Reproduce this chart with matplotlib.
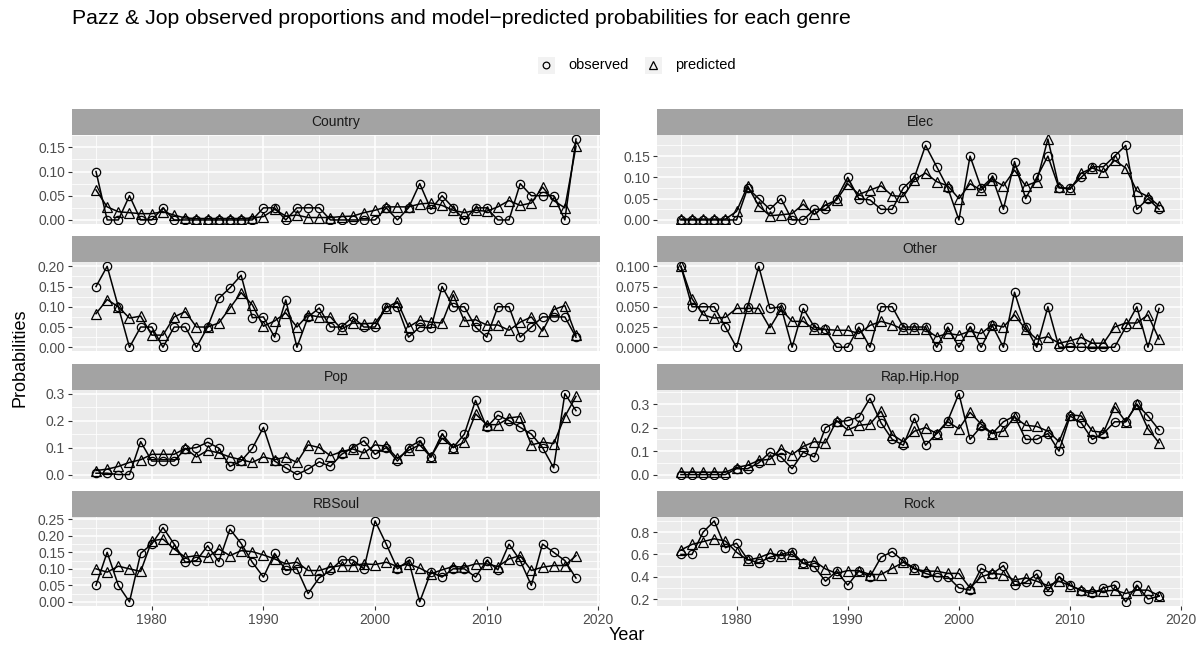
import matplotlib
matplotlib.use("Agg")
import matplotlib.pyplot as plt
from matplotlib.lines import Line2D
from matplotlib.patches import Rectangle
from matplotlib.ticker import FormatStrFormatter

# -----------------------------
# Data: share of Pazz & Jop albums per genre, 1975-2018
# -----------------------------

years = list(range(1975, 2019))

genres = ["Country", "Elec", "Folk", "Other", "Pop", "Rap.Hip.Hop", "RBSoul", "Rock"]

country_obs = [0.10, 0, 0, 0.05, 0, 0, 0.025, 0, 0, 0, 0, 0, 0, 0, 0,
               0.025, 0.025, 0, 0.025, 0.025, 0.025, 0, 0, 0, 0,
               0, 0.025, 0, 0.025, 0.075, 0.022, 0.05, 0.025, 0, 0.025,
               0.025, 0, 0, 0.075, 0.05, 0.05, 0.05, 0, 0.167]
country_pred = [0.062, 0.027, 0.017, 0.015, 0.013, 0.013, 0.017, 0.01, 0.004, 0.003, 0.003, 0.003, 0.003, 0.003, 0.004,
                0.007, 0.022, 0.008, 0.01, 0.005, 0.005, 0.005, 0.007, 0.008, 0.015,
                0.02, 0.027, 0.027, 0.027, 0.033, 0.035, 0.03, 0.02, 0.015, 0.02,
                0.018, 0.027, 0.04, 0.03, 0.035, 0.068, 0.04, 0.025, 0.152]

elec_obs = [0, 0, 0, 0, 0, 0, 0.075, 0.05, 0.025, 0.05, 0, 0, 0.025, 0.025, 0.05,
            0.10, 0.05, 0.047, 0.025, 0.025, 0.075, 0.10, 0.175, 0.125, 0.075,
            0, 0.15, 0.075, 0.10, 0.025, 0.137, 0.05, 0.10, 0.15, 0.075,
            0.075, 0.10, 0.125, 0.125, 0.15, 0.175, 0.025, 0.05, 0.025]
elec_pred = [0.002, 0.002, 0.002, 0.002, 0.002, 0.02, 0.08, 0.033, 0.01, 0.012, 0.015, 0.037, 0.013, 0.035, 0.047,
             0.085, 0.06, 0.07, 0.08, 0.057, 0.055, 0.095, 0.11, 0.09, 0.08,
             0.05, 0.085, 0.07, 0.095, 0.08, 0.117, 0.08, 0.09, 0.19, 0.077,
             0.072, 0.11, 0.122, 0.112, 0.14, 0.122, 0.068, 0.055, 0.033]

folk_obs = [0.15, 0.20, 0.10, 0, 0.05, 0.05, 0, 0.05, 0.05, 0, 0.05, 0.121, 0.147, 0.178, 0.073,
            0.075, 0.025, 0.117, 0, 0.075, 0.097, 0.05, 0.05, 0.075, 0.05,
            0.05, 0.10, 0.10, 0.025, 0.05, 0.047, 0.15, 0.10, 0.10, 0.05,
            0.025, 0.10, 0.10, 0.025, 0.05, 0.075, 0.075, 0.075, 0.025]
folk_pred = [0.083, 0.118, 0.10, 0.072, 0.077, 0.03, 0.03, 0.075, 0.088, 0.05, 0.05, 0.06, 0.097, 0.135, 0.105,
             0.052, 0.065, 0.085, 0.05, 0.08, 0.075, 0.075, 0.045, 0.06, 0.058,
             0.06, 0.097, 0.113, 0.05, 0.067, 0.062, 0.06, 0.13, 0.065, 0.068,
             0.055, 0.055, 0.042, 0.062, 0.075, 0.04, 0.093, 0.103, 0.03]

other_obs = [0.10, 0.05, 0.05, 0.05, 0.025, 0, 0.05, 0.10, 0.048, 0.05, 0, 0.048, 0.025, 0.022, 0,
             0, 0.025, 0, 0.05, 0.05, 0.025, 0.025, 0.025, 0, 0.025,
             0, 0.025, 0, 0.027, 0, 0.068, 0.025, 0, 0.05, 0,
             0, 0, 0, 0, 0, 0.025, 0.05, 0, 0.048]
other_pred = [0.10, 0.06, 0.04, 0.036, 0.037, 0.048, 0.048, 0.048, 0.024, 0.047, 0.032, 0.032, 0.022, 0.022, 0.021,
              0.021, 0.017, 0.027, 0.032, 0.028, 0.022, 0.022, 0.022, 0.013, 0.017,
              0.015, 0.02, 0.017, 0.028, 0.025, 0.04, 0.022, 0.01, 0.013, 0.005,
              0.008, 0.012, 0.005, 0.005, 0.025, 0.03, 0.03, 0.04, 0.01]

pop_obs = [0.005, 0.005, 0, 0, 0.122, 0.05, 0.05, 0.05, 0.095, 0.10, 0.12, 0.098, 0.03, 0.05, 0.097,
           0.175, 0.05, 0.025, 0, 0.02, 0.047, 0.03, 0.075, 0.10, 0.125,
           0.075, 0.10, 0.05, 0.10, 0.125, 0.065, 0.15, 0.10, 0.15, 0.275,
           0.175, 0.22, 0.20, 0.175, 0.15, 0.10, 0.025, 0.30, 0.237]
pop_pred = [0.015, 0.02, 0.03, 0.045, 0.055, 0.075, 0.075, 0.075, 0.097, 0.065, 0.09, 0.08, 0.065, 0.055, 0.045,
            0.065, 0.055, 0.065, 0.045, 0.11, 0.10, 0.07, 0.085, 0.095, 0.08,
            0.11, 0.105, 0.06, 0.09, 0.11, 0.065, 0.135, 0.10, 0.12, 0.225,
            0.185, 0.185, 0.21, 0.215, 0.11, 0.12, 0.115, 0.215, 0.29]

rap_obs = [0, 0, 0, 0, 0, 0.025, 0.025, 0.05, 0.095, 0.075, 0.025, 0.095, 0.075, 0.20, 0.225,
           0.23, 0.245, 0.325, 0.22, 0.15, 0.125, 0.24, 0.125, 0.175, 0.23,
           0.345, 0.15, 0.205, 0.175, 0.225, 0.25, 0.15, 0.15, 0.175, 0.10,
           0.25, 0.22, 0.15, 0.175, 0.225, 0.225, 0.30, 0.25, 0.19]
rap_pred = [0.01, 0.01, 0.01, 0.01, 0.01, 0.03, 0.04, 0.06, 0.065, 0.11, 0.085, 0.12, 0.14, 0.135, 0.23,
            0.19, 0.21, 0.215, 0.27, 0.17, 0.14, 0.185, 0.20, 0.175, 0.225,
            0.195, 0.265, 0.215, 0.175, 0.185, 0.245, 0.21, 0.205, 0.185, 0.14,
            0.255, 0.25, 0.185, 0.18, 0.29, 0.225, 0.30, 0.195, 0.135]

rbsoul_obs = [0.05, 0.15, 0.05, 0, 0.147, 0.175, 0.225, 0.175, 0.12, 0.125, 0.17, 0.122, 0.22, 0.177, 0.12,
              0.075, 0.147, 0.095, 0.10, 0.025, 0.073, 0.095, 0.127, 0.127, 0.10,
              0.245, 0.175, 0.10, 0.125, 0, 0.09, 0.075, 0.10, 0.10, 0.075,
              0.125, 0.097, 0.175, 0.125, 0.05, 0.175, 0.15, 0.125, 0.072]
rbsoul_pred = [0.10, 0.09, 0.108, 0.10, 0.092, 0.185, 0.19, 0.16, 0.135, 0.14, 0.135, 0.16, 0.14, 0.155, 0.152,
               0.142, 0.13, 0.115, 0.12, 0.095, 0.095, 0.105, 0.11, 0.11, 0.115,
               0.113, 0.12, 0.107, 0.115, 0.102, 0.085, 0.097, 0.107, 0.105, 0.115,
               0.115, 0.107, 0.13, 0.14, 0.095, 0.105, 0.11, 0.11, 0.14]

rock_obs = [0.60, 0.60, 0.80, 0.90, 0.66, 0.70, 0.555, 0.525, 0.575, 0.60, 0.625, 0.52, 0.49, 0.36, 0.45,
            0.325, 0.45, 0.40, 0.575, 0.625, 0.54, 0.475, 0.43, 0.40, 0.40,
            0.30, 0.28, 0.475, 0.425, 0.50, 0.325, 0.35, 0.425, 0.275, 0.40,
            0.325, 0.275, 0.25, 0.30, 0.325, 0.175, 0.325, 0.20, 0.225]
rock_pred = [0.64, 0.69, 0.715, 0.74, 0.72, 0.62, 0.55, 0.57, 0.61, 0.59, 0.60, 0.52, 0.54, 0.47, 0.43,
             0.455, 0.455, 0.42, 0.42, 0.475, 0.53, 0.47, 0.45, 0.45, 0.43,
             0.43, 0.30, 0.40, 0.43, 0.42, 0.37, 0.39, 0.36, 0.32, 0.36,
             0.32, 0.28, 0.27, 0.27, 0.28, 0.25, 0.28, 0.28, 0.23]

# y breaks and label decimals for each facet (free y scales)
y_breaks = {
    "Country": ([0, 0.05, 0.10, 0.15], 2),
    "Elec": ([0, 0.05, 0.10, 0.15], 2),
    "Folk": ([0, 0.05, 0.10, 0.15, 0.20], 2),
    "Other": ([0, 0.025, 0.05, 0.075, 0.10], 3),
    "Pop": ([0, 0.1, 0.2, 0.3], 1),
    "Rap.Hip.Hop": ([0, 0.1, 0.2, 0.3], 1),
    "RBSoul": ([0, 0.05, 0.10, 0.15, 0.20, 0.25], 2),
    "Rock": ([0.2, 0.4, 0.6, 0.8], 1),
}

series = {
    "Country": (country_obs, country_pred),
    "Elec": (elec_obs, elec_pred),
    "Folk": (folk_obs, folk_pred),
    "Other": (other_obs, other_pred),
    "Pop": (pop_obs, pop_pred),
    "Rap.Hip.Hop": (rap_obs, rap_pred),
    "RBSoul": (rbsoul_obs, rbsoul_pred),
    "Rock": (rock_obs, rock_pred),
}

W, H = 1202, 646
PANEL_BG = "#EBEBEB"
STRIP_BG = "#A3A3A3"
TICK_COL = "#4D4D4D"


def box(x0, y0, x1, y1):
    # pixel box (top-left origin) -> figure fraction rect
    return [x0 / W, 1 - y1 / H, (x1 - x0) / W, (y1 - y0) / H]


def main():
    plt.rcParams["font.family"] = ["Liberation Sans", "DejaVu Sans"]

    fig = plt.figure(figsize=(W / 100, H / 100), dpi=100)

    cols = [(72, 600), (657, 1183)]
    strip_h = 26
    panel_h = 89
    pitch = 127.3
    strip_tops = [109 + r * pitch for r in range(4)]

    x_lo = years[0] - 0.05 * (years[-1] - years[0])
    x_hi = years[-1] + 0.05 * (years[-1] - years[0])

    for i, genre in enumerate(genres):
        row, col = divmod(i, 2)
        x0, x1 = cols[col]
        top = strip_tops[row]

        # -----------------------------
        # Strip
        # -----------------------------
        sax = fig.add_axes(box(x0, top, x1, top + strip_h))
        sax.set_facecolor(STRIP_BG)
        sax.set_xticks([])
        sax.set_yticks([])
        for s in sax.spines.values():
            s.set_visible(False)
        sax.text(0.5, 0.5, genre, ha="center", va="center",
                 fontsize=10, color="#1A1A1A", transform=sax.transAxes)

        # -----------------------------
        # Panel
        # -----------------------------
        ax = fig.add_axes(box(x0, top + strip_h, x1, top + strip_h + panel_h))
        ax.set_facecolor(PANEL_BG)
        for s in ax.spines.values():
            s.set_visible(False)

        obs, pred = series[genre]
        ax.plot(years, obs, color="black", lw=1.1, marker="o", ms=6,
                mfc="none", mec="black", mew=0.9, zorder=3)
        ax.plot(years, pred, color="black", lw=1.1, marker="^", ms=6.5,
                mfc="none", mec="black", mew=0.9, zorder=3)

        ax.set_xlim(x_lo, x_hi)
        ax.set_xticks([1980, 1990, 2000, 2010, 2020])
        ax.set_xticks([1975, 1985, 1995, 2005, 2015], minor=True)

        lo = min(min(obs), min(pred))
        hi = max(max(obs), max(pred))
        pad = 0.05 * (hi - lo)
        ax.set_ylim(lo - pad, hi + pad)

        ticks, dec = y_breaks[genre]
        step = ticks[1] - ticks[0]
        ax.set_yticks(ticks)
        minors = [t + step / 2 for t in [ticks[0] - step] + ticks]
        ax.set_yticks([m for m in minors if lo - pad <= m <= hi + pad], minor=True)
        ax.yaxis.set_major_formatter(FormatStrFormatter("%." + str(dec) + "f"))

        ax.grid(which="major", color="white", lw=1.1)
        ax.grid(which="minor", color="white", lw=0.55)
        ax.set_axisbelow(True)

        ax.tick_params(which="major", length=3, width=0.8, color="#333333",
                       labelsize=10, labelcolor=TICK_COL, pad=2)
        ax.tick_params(which="minor", length=0)
        if row < 3:
            ax.tick_params(axis="x", bottom=False, labelbottom=False)

    # -----------------------------
    # Titles
    # -----------------------------
    fig.text(72 / W, 1 - 19 / H,
             "Pazz & Jop observed proportions and model\u2212predicted probabilities for each genre",
             fontsize=15.3, va="center", ha="left", color="black")
    fig.text(20 / W, 1 - 358 / H, "Probabilities", rotation=90,
             fontsize=13, va="center", ha="center")
    fig.text(627 / W, 1 - 636 / H, "Year", fontsize=13, va="center", ha="center")

    # -----------------------------
    # Legend (shape key)
    # -----------------------------
    key = 17
    legend_items = [(546, "o", 6, "observed"), (653, "^", 6.5, "predicted")]
    for cx, marker, ms, label in legend_items:
        fig.add_artist(Rectangle(((cx - key / 2) / W, 1 - (65 + key / 2) / H),
                                 key / W, key / H, transform=fig.transFigure,
                                 facecolor="#F2F2F2", edgecolor="none"))
        fig.add_artist(Line2D([cx / W], [1 - 65 / H], transform=fig.transFigure,
                              marker=marker, ms=ms * 0.8, mfc="none", mec="black",
                              mew=0.9, ls="none"))
        fig.text((cx + 22) / W, 1 - 65 / H, label, fontsize=10.5,
                 va="center", ha="left")

    fig.savefig("out.png", dpi=100)
    plt.close(fig)


if __name__ == "__main__":
    main()
